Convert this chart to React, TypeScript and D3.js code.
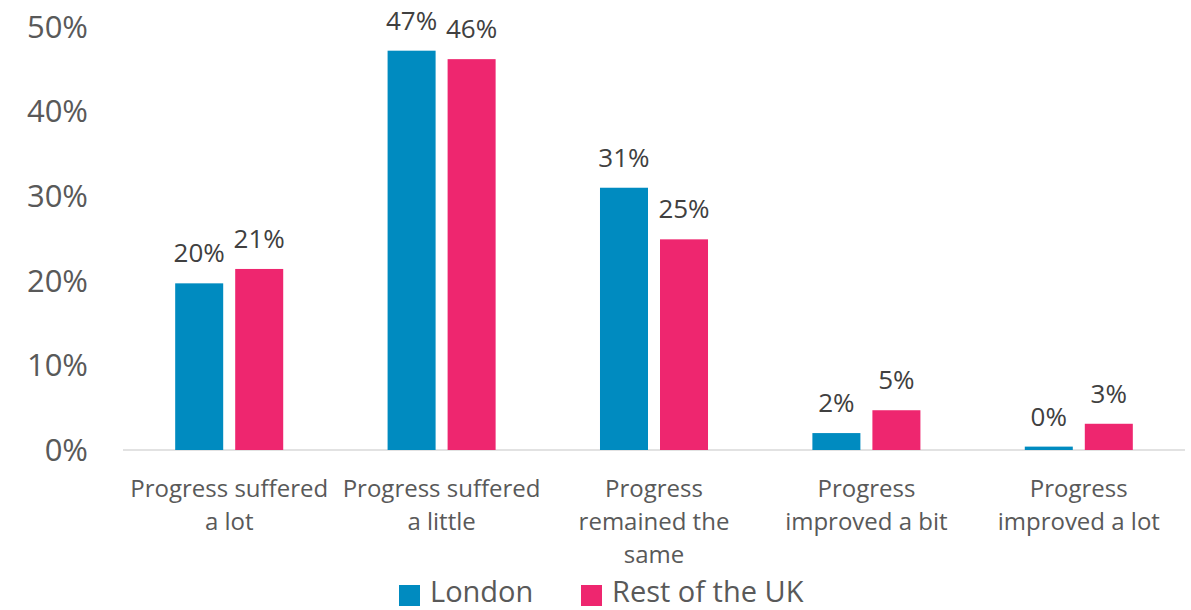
import * as d3 from 'd3';
import React from 'react';

const categories = [
  ['Progress suffered', 'a lot'],
  ['Progress suffered', 'a little'],
  ['Progress', 'remained the', 'same'],
  ['Progress', 'improved a bit'],
  ['Progress', 'improved a lot'],
];
const seriesNames = ['London', 'Rest of the UK'];
const london = [19.7, 47.2, 31.0, 2.0, 0.4];
const restOfUK = [21.4, 46.2, 24.9, 4.7, 3.1];
const londonLabels = ['20%', '47%', '31%', '2%', '0%'];
const restLabels = ['21%', '46%', '25%', '5%', '3%'];
const yTicks = [0, 10, 20, 30, 40, 50];
const colors = ['#008BC0', '#EE266F'];

const W = 1191;
const H = 610;
const font = "'Open Sans', sans-serif";
const grey = '#595959';

const App = () => {
  const margin = { top: 27, left: 123, right: 6, bottom: 160 };
  const y = d3.scaleLinear().domain([0, 50]).range([450, margin.top]);
  const x0 = d3.scaleBand<number>()
    .domain(d3.range(categories.length))
    .range([margin.left, W - margin.right]);
  const bw = x0.bandwidth();
  const x1 = d3.scaleBand<number>()
    .domain([0, 1])
    .range([bw * 0.2457, bw * 0.7543])
    .paddingInner(0.2);

  const series = [london, restOfUK];
  const labels = [londonLabels, restLabels];

  return (
    <svg width={W} height={H} style={{ position: 'absolute', left: 0, top: 0 }}>
      <rect width={W} height={H} fill="#fff" />
      {yTicks.map(t => (
        <text key={t} x={88} y={y(t)} dy="0.35em" textAnchor="end"
          fontFamily={font} fontSize={31} fill={grey}>{t}%</text>
      ))}
      <line x1={margin.left} x2={W - margin.right} y1={y(0)} y2={y(0)}
        stroke="#d9d9d9" strokeWidth={1.5} />
      {categories.map((lines, i) => (
        <g key={i} transform={`translate(${x0(i)},0)`}>
          {series.map((s, j) => (
            <g key={j}>
              <rect x={x1(j)} y={y(s[i])} width={x1.bandwidth()}
                height={y(0) - y(s[i])} fill={colors[j]} />
              <text x={(x1(j) as number) + x1.bandwidth() / 2} y={y(s[i]) - 21}
                textAnchor="middle" fontFamily={font} fontSize={26} fill="#404040">
                {labels[j][i]}
              </text>
            </g>
          ))}
          {lines.map((ln, k) => (
            <text key={k} x={bw / 2} y={497 + k * 33} textAnchor="middle"
              fontFamily={font} fontSize={24} fill={grey}>{ln}</text>
          ))}
        </g>
      ))}
      {seriesNames.map((n, j) => {
        const lx = [399, 581][j];
        return (
          <g key={n}>
            <rect x={lx} y={585} width={21} height={21} fill={colors[j]} />
            <text x={lx + 31} y={602} fontFamily={font} fontSize={29} fill={grey}>{n}</text>
          </g>
        );
      })}
    </svg>
  );
};

export default App;
